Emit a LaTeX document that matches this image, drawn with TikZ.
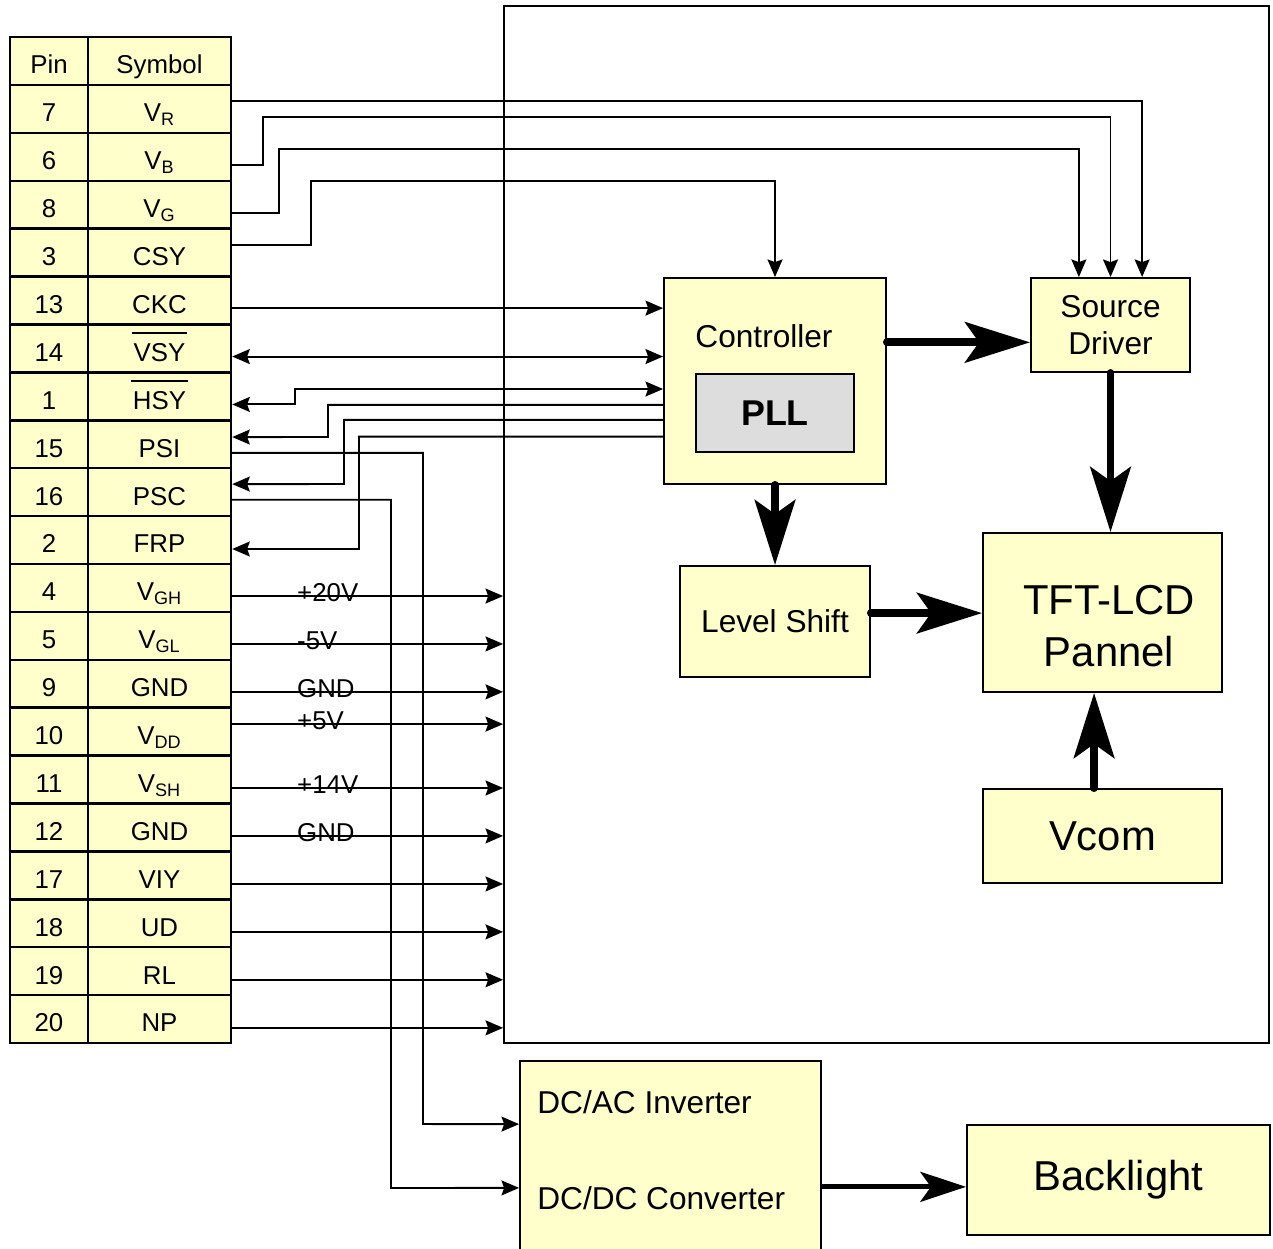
\documentclass[tikz,border=0pt]{standalone}
\usepackage{fontspec}
\setmainfont{Liberation Sans}
\usetikzlibrary{arrows.meta}

\definecolor{tabyellow}{RGB}{255,255,204}
\definecolor{pllgray}{RGB}{221,221,221}
\newlength{\olwd}
\newcommand{\olbar}[1]{\settowidth{\olwd}{#1}\makebox[0pt][l]{\hspace*{-1pt}\rule[15.8pt]{\dimexpr\olwd+2pt\relax}{1.1pt}}#1}
\newcommand{\tabfont}{\fontsize{14.7}{17}\selectfont}
\newcommand{\blkfont}{\fontsize{18}{21.5}\selectfont}
\newcommand{\bigfont}{\fontsize{23.8}{29.5}\selectfont}
\newcommand{\pllfont}{\fontsize{20.4}{24}\selectfont\bfseries}

\tikzset{
	cell/.style = {draw, fill=tabyellow, line width=1.4pt, inner sep=0pt, minimum height=0.958cm, text height=14.7pt, text depth=0pt, font=\tabfont},
	block/.style = {draw, fill=tabyellow, line width=1.1pt, align=center, inner sep=0pt},
	wire/.style = {line width=1.1pt, >={Stealth[length=10pt, width=8.5pt, inset=1.5pt]}},
	bus/.style = {line width=4.5pt, line cap=round, -{Stealth[length=37pt, width=23pt, inset=8pt]}},
}

\begin{document}
\begin{tikzpicture}[x=0.02cm, y=-0.02cm]
	\useasboundingbox (0,0) rectangle (1273,1248);
	\def\rowh{47.9};

	\node[draw, line width=1.1pt, minimum width=15.3cm, minimum height=20.74cm] (lcm) at (886.5,524.5) {};

	\node[cell, minimum width=1.56cm] (pin-h) at (49,61.05) {Pin};
	\node[cell, minimum width=2.86cm] (sym-h) at (159.5,61.05) {Symbol};
	\foreach \p/\s [count=\i from 0] in {7/V\textsubscript{R}, 6/V\textsubscript{B}, 8/V\textsubscript{G}, 3/CSY, 13/CKC, 14/\olbar{VSY}, 1/\olbar{HSY}, 15/PSI, 16/PSC, 2/FRP, 4/V\textsubscript{GH}, 5/V\textsubscript{GL}, 9/GND, 10/V\textsubscript{DD}, 11/V\textsubscript{SH}, 12/GND, 17/VIY, 18/UD, 19/RL, 20/NP} {
		\node[cell, minimum width=1.56cm] (pin-\i) at (49,{108.95+\rowh*\i}) {\p};
		\node[cell, minimum width=2.86cm] (sym-\i) at (159.5,{108.95+\rowh*\i}) {\s};
	}

	\node[block, minimum width=4.44cm, minimum height=4.12cm] (ctrl) at (775,381) {};
	\node[font=\blkfont, inner sep=0pt] (ctrl-txt) at (764,336) {Controller};
	\node[block, fill=pllgray, minimum width=3.16cm, minimum height=1.56cm, font=\pllfont] (pll) at (775,413) {PLL};
	\node[block, minimum width=3.18cm, minimum height=1.88cm, font=\blkfont] (src) at (1110.5,325) {Source\\Driver};
	\node[block, minimum width=3.8cm, minimum height=2.22cm, font=\blkfont] (lvl) at (775,621.5) {Level Shift};
	\node[block, minimum width=4.78cm, minimum height=3.18cm] (tft) at (1102.5,612.5) {};
	\node[font=\bigfont, align=center, inner sep=0pt] (tft-txt) at (1109,626) {TFT-LCD\\Pannel};
	\node[block, minimum width=4.78cm, minimum height=1.88cm, font=\bigfont] (vcom) at (1102.5,836) {Vcom};
	\node[block, minimum width=6.06cm, minimum height=2.2cm, font=\bigfont] (blight) at (1118.5,1180) {Backlight};
	\node[block, minimum width=6.02cm, minimum height=4cm] (dc) at (670.5,1161) {};
	\node[font=\blkfont, anchor=west, inner sep=0pt] (dcac) at (537,1102) {DC/AC Inverter};
	\node[font=\blkfont, anchor=west, inner sep=0pt] (dcdc) at (537,1198) {DC/DC Converter};

	\begin{scope}[wire, ->]
		\draw ([yshift=4.6pt]sym-0.east) -| ([xshift=18pt]src.north);
		\draw ([yshift=-4.6pt]sym-1.east) -| (263,117) -| (src.north);
		\draw ([yshift=-4.6pt]sym-2.east) -| (279,149) -| ([xshift=-18pt]src.north);
		\draw ([yshift=4.3pt]sym-3.east) -| (311,181) -| (ctrl.north);

		\coordinate (ckc) at ([yshift=-4.3pt]sym-4.east);
		\draw (ckc) -- (ckc -| ctrl.west);
		\coordinate (vsy) at ([yshift=-4.6pt]sym-5.east);
		\draw[<->] (vsy) -- (vsy -| ctrl.west);
		\coordinate (hsy) at ([yshift=-4.6pt]sym-6.east);
		\coordinate (hsy-jog) at (295,389);
		\draw[<->] (hsy) -| (hsy-jog) -- (hsy-jog -| ctrl.west);

		\draw ([yshift=-13.6pt]ctrl.west) -| (328,437) -- ([yshift=4.1pt]sym-7.east);
		\draw ([yshift=-22.1pt]ctrl.west) -| (344,484) -- ([yshift=4.6pt]sym-8.east);
		\draw ([yshift=-31.7pt]ctrl.west) -| (359,549) -- ([yshift=-5.1pt]sym-9.east);

		\draw ([yshift=-4.9pt]sym-7.east) -| (423,1124) -- ([yshift=21pt]dc.west);
		\draw ([yshift=-4.3pt]sym-8.east) -| (391,1188) -- ([yshift=-15.3pt]dc.west);

		\foreach \i/\dy in {10/-4.6pt, 11/-4.6pt, 12/-4.6pt, 13/4.3pt, 14/-4.8pt, 15/-4.8pt, 16/-4.9pt, 17/-4.9pt, 18/-4.9pt, 19/-5pt} {
			\coordinate (pw-\i) at ([yshift=\dy]sym-\i.east);
			\draw (pw-\i) -- (pw-\i -| lcm.west);
		}
	\end{scope}

	\foreach \i/\v in {10/+20V, 11/-5V, 12/GND, 13/+5V, 14/+14V, 15/GND}
		\node[anchor=west, inner sep=0pt, font=\tabfont] (volt-\i) at ([xshift=36.8pt, yshift=1.7pt]pw-\i) {\v};

	\begin{scope}[bus]
		\coordinate (c2s) at ([yshift=22pt]ctrl.east);
		\draw (c2s) -- (c2s -| src.west);
		\draw (src.south) -- (src.south |- tft.north);
		\draw (ctrl.south) -- (lvl.north);
		\coordinate (l2t) at ([yshift=4.8pt]lvl.east);
		\draw (l2t) -- (l2t -| tft.west);
		\draw ([xshift=-4.8pt]vcom.north) -- ([xshift=-4.8pt]tft.south);
	\end{scope}

	\coordinate (c2b) at ([yshift=-14.7pt]dc.east);
	\draw[line width=3pt, -{Stealth[length=26pt, width=17pt, inset=6pt]}] (c2b) -- (c2b -| blight.west);
\end{tikzpicture}
\end{document}
